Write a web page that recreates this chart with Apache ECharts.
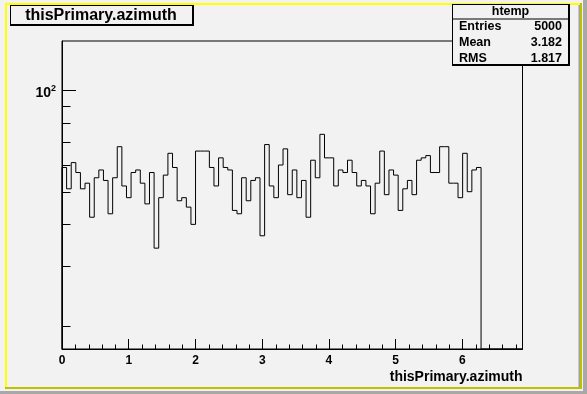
<!DOCTYPE html>
<html><head><meta charset="utf-8">
<script src="https://cdn.jsdelivr.net/npm/echarts@6/dist/echarts.min.js"></script>
<style>html,body{margin:0;padding:0;background:#f2f2f2;}#c{width:587px;height:394px;}</style>
</head><body><div id="c"></div>
<script>
// ---- data ----
const binCounts = [59,51,61,57,51,53,42,55,58,54, 43,55,68,52,48,57,58,53,46,57,
  34,48,56,65,59,47,48,45,40,66, 66,66,59,52,63,59,58,44,43,55,
  47,54,55,37,69,52,48,60,67,49, 58,48,54,42,62,55,74,63,63,52,
  58,57,62,57,52,54,52,43,53,66, 49,58,56,44,51,54,49,62,63,64,
  57,57,68,68,53,53,48,65,50,58,59];
const nBins = 100;
const xMin = 0, xMax = 6.9;
const yMin = 17.07, yMax = 140;
const xMinorTicks = [0.2,0.4,0.6,0.8,1.2,1.4,1.6,1.8,2.2,2.4,2.6,2.8,3.2,3.4,3.6,3.8,
  4.2,4.4,4.6,4.8,5.2,5.4,5.6,5.8,6.2,6.4,6.6,6.8];
const yMinorTicks = [20,30,40,50,60,70,80,90];
const titleText = 'thisPrimary.azimuth';
const xTitle = 'thisPrimary.azimuth';
const statsName = 'htemp';
const statsLabels = ['Entries','Mean','RMS'];
const statsValues = ['5000','3.182','1.817'];

// ---- build histogram outline ----
const binW = (xMax - xMin) / nBins;
const pts = [[xMin, yMin]];
binCounts.forEach((c, i) => {
  pts.push([xMin + i * binW, c]);
  pts.push([xMin + (i + 1) * binW, c]);
});
pts.push([xMin + binCounts.length * binW, yMin]);
pts.push([xMax, yMin]);

const FONT = '"Liberation Sans", Arial, Helvetica, sans-serif';
const BG = '#f2f2f2';

const chart = echarts.init(document.getElementById('c'), null, {renderer: 'canvas'});

function tickSeries(data, axis, len) {
  return {
    type: 'custom', silent: true, z: 5,
    data: data.map(v => axis === 'x' ? [v, yMin] : [xMin, v]),
    renderItem: function (params, api) {
      const p = api.coord([api.value(0), api.value(1)]);
      const x = Math.round(p[0]) + 0.5, y = Math.round(p[1]) + 0.5;
      return {
        type: 'line',
        shape: axis === 'x' ? {x1: x, y1: y, x2: x, y2: y - len} : {x1: x, y1: y, x2: x + len, y2: y},
        style: {stroke: '#000', lineWidth: 1}
      };
    }
  };
}

const statsGraphics = [];
statsLabels.forEach((l, i) => {
  const y = [26.7, 42.8, 58.3][i];
  statsGraphics.push({type: 'text', z: 102, x: 459, y: y,
    style: {text: l, font: 'bold 12.5px ' + FONT, fill: '#000', align: 'left', verticalAlign: 'middle'}});
  statsGraphics.push({type: 'text', z: 102, x: 562, y: y,
    style: {text: statsValues[i], font: 'bold 12.5px ' + FONT, fill: '#000', align: 'right', verticalAlign: 'middle'}});
});

chart.setOption({
  backgroundColor: BG,
  animation: false,
  grid: {left: 62, top: 41, width: 460.5, height: 308, show: true, borderColor: '#000', borderWidth: 1, backgroundColor: 'transparent'},
  xAxis: {
    type: 'value', min: xMin, max: xMax, interval: 1,
    name: xTitle, nameLocation: 'end', nameGap: 0,
    nameTextStyle: {fontFamily: FONT, fontWeight: 'bold', fontSize: 14, color: '#000', align: 'right', verticalAlign: 'top', padding: [21, 0, 0, 0]},
    axisLine: {show: true, lineStyle: {color: '#000', width: 1}},
    axisTick: {show: true, inside: true, length: 10, lineStyle: {color: '#000'}},
    axisLabel: {show: true, margin: 6, fontFamily: FONT, fontWeight: 'bold', fontSize: 12, color: '#000', showMaxLabel: false},
    splitLine: {show: false}
  },
  yAxis: {
    type: 'log', logBase: 10, min: yMin, max: yMax,
    axisLine: {show: true, lineStyle: {color: '#000', width: 1}},
    axisTick: {show: true, inside: true, length: 14, lineStyle: {color: '#000'}},
    axisLabel: {
      show: true, margin: 6, showMinLabel: false, showMaxLabel: false,
      fontFamily: FONT, fontWeight: 'bold', fontSize: 14, color: '#000',
      formatter: v => (Math.abs(v - 100) < 1e-6 ? '{a|10}{b|2}' : ''),
      rich: {
        a: {fontFamily: FONT, fontWeight: 'bold', fontSize: 14, color: '#000', padding: [6, 0, 0, 0]},
        b: {fontFamily: FONT, fontWeight: 'bold', fontSize: 9, color: '#000', padding: [0, 0, 4, 0]}
      }
    },
    splitLine: {show: false}
  },
  series: [
    {
      type: 'line', data: pts, symbol: 'none', clip: true, z: 3,
      lineStyle: {color: '#000', width: 1}
    },
    tickSeries(xMinorTicks, 'x', 5),
    tickSeries(yMinorTicks, 'y', 8)
  ],
  graphic: [
    {type: 'rect', z: 100, shape: {x: 583, y: 0, width: 4, height: 394}, style: {fill: '#a8a8a8'}},
    {type: 'rect', z: 100, shape: {x: 0, y: 391, width: 587, height: 3}, style: {fill: '#a8a8a8'}},
    {type: 'rect', z: 100, shape: {x: 578.5, y: 5, width: 1.5, height: 382}, style: {fill: '#a0a0a0'}},
    {type: 'rect', z: 100, shape: {x: 5, y: 3, width: 577, height: 2}, style: {fill: '#ffff00'}},
    {type: 'rect', z: 100, shape: {x: 5, y: 3, width: 2, height: 386}, style: {fill: '#ffff00'}},
    {type: 'rect', z: 100, shape: {x: 5, y: 387, width: 577, height: 2}, style: {fill: '#c0c000'}},
    {type: 'rect', z: 100, shape: {x: 580, y: 3, width: 2, height: 386}, style: {fill: '#c0c000'}},
    // title box
    {type: 'rect', z: 101, shape: {x: 10, y: 5, width: 184, height: 21}, style: {fill: '#000'}},
    {type: 'rect', z: 101, shape: {x: 11, y: 6, width: 181, height: 18}, style: {fill: BG}},
    {type: 'text', z: 102, x: 101, y: 15.5,
      style: {text: titleText, font: 'bold 16px ' + FONT, fill: '#000', align: 'center', verticalAlign: 'middle'}},
    // stats box
    {type: 'rect', z: 101, shape: {x: 452, y: 4, width: 118, height: 62}, style: {fill: '#000'}},
    {type: 'rect', z: 101, shape: {x: 453, y: 5, width: 115, height: 59}, style: {fill: BG}},
    {type: 'rect', z: 101, shape: {x: 453, y: 18.5, width: 115, height: 1}, style: {fill: '#000'}},
    {type: 'text', z: 102, x: 510.5, y: 12,
      style: {text: statsName, font: 'bold 12.5px ' + FONT, fill: '#000', align: 'center', verticalAlign: 'middle'}}
  ].concat(statsGraphics)
});
</script></body></html>
